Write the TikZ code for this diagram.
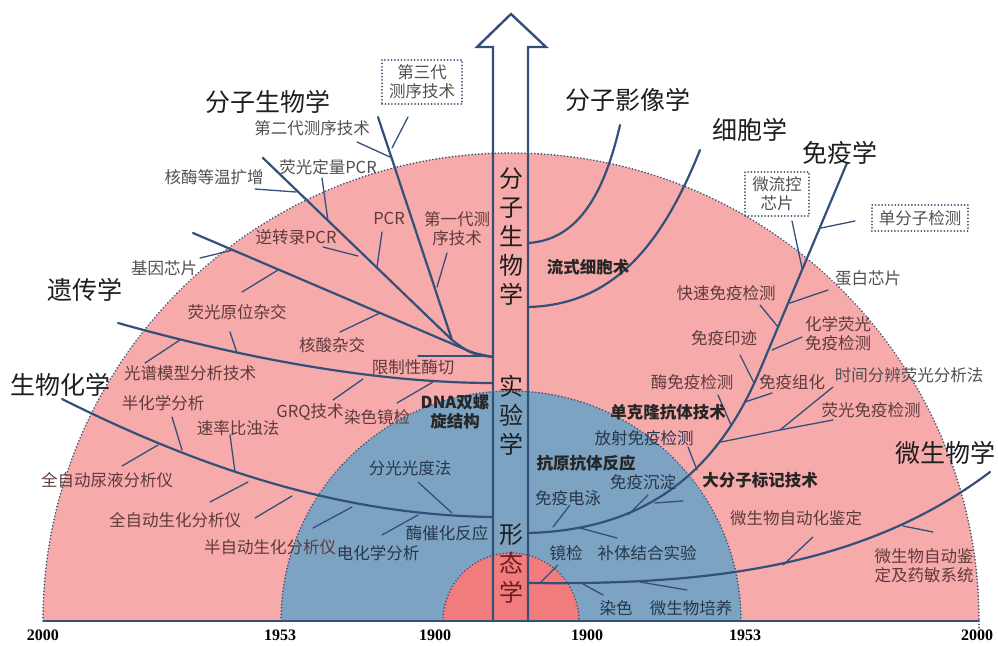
\documentclass[tikz,border=0pt]{standalone}
\usepackage{fontspec}
\setmainfont{Noto Sans CJK SC}
\newfontfamily\yearfont{Liberation Serif}
\definecolor{pinkfill}{HTML}{F7AAAA}
\definecolor{bluefill}{HTML}{7DA3C2}
\definecolor{redfill}{HTML}{F27C7C}
\definecolor{branch}{HTML}{33507A}
\definecolor{dotc}{HTML}{3D5675}
\definecolor{txtpink}{HTML}{5E3A3C}
\definecolor{txtout}{HTML}{505050}
\definecolor{txtblue}{HTML}{26374C}
\definecolor{bigtxt}{HTML}{1E1E1E}
\definecolor{darkred}{HTML}{6A1E22}
\tikzset{
  mainbr/.style={draw=branch, line width=2.2pt, line cap=round},
  twig/.style={draw=branch, line width=1.3pt, line cap=round},
  rim/.style={draw=dotc, line width=1.8pt, dash pattern=on 0.1pt off 3.2pt, line cap=round},
  lbl/.style={font=\fontsize{16.5}{19}\selectfont, text=txtpink, inner sep=0pt, align=center},
  outlbl/.style={lbl, text=txtout},
  bluelbl/.style={lbl, text=txtblue},
  boldlbl/.style={lbl, font=\fontsize{16.5}{19}\selectfont\bfseries, text=black!85},
  biglbl/.style={font=\fontsize{25}{28}\selectfont, text=bigtxt, inner sep=0pt},
  boxlbl/.style={outlbl, draw=dotc, line width=1.8pt, dash pattern=on 0.1pt off 3.2pt, line cap=round, inner xsep=7pt, inner ysep=5pt},
  arrowtxt/.style={font=\fontsize{24}{29}\selectfont, text=bigtxt, inner sep=0pt, align=center},
  yearlbl/.style={font=\yearfont\bfseries\fontsize{16}{18}\selectfont, text=black, inner sep=0pt},
  arrowline/.style={draw=branch, line width=2.4pt, line join=miter}
}
\begin{document}
\begin{tikzpicture}[x=1pt,y=-1pt]
\useasboundingbox (0,0) rectangle (998,645);
% regions
\fill[pinkfill] (43,621) arc[start angle=180,end angle=0,radius=468pt] -- cycle;
\fill[bluefill] (281,621) arc[start angle=180,end angle=0,radius=230pt] -- cycle;
\fill[redfill] (443,621) arc[start angle=180,end angle=0,radius=68pt] -- cycle;
\draw[rim] (43,621) arc[start angle=180,end angle=0,radius=468pt];
\draw[rim] (281,621) arc[start angle=180,end angle=0,radius=230pt];
\draw[rim] (443,621) arc[start angle=180,end angle=0,radius=68pt];
\draw[rim] (979,621) -- (979,630);
\draw[draw=branch, line width=1.8pt] (43,621) -- (979,621);

% central arrow
\draw[arrowline] (493,621) -- (493,47) -- (477,47) -- (511,14) -- (546,47) -- (528,47) -- (528,621);
\node[arrowtxt] (amol) at (511,237) {分\\子\\生\\物\\学};
\node[arrowtxt] (aexp) at (511,415) {实\\验\\学};
\node[arrowtxt] (amor) at (511,564) {形\\{\color{darkred}态}\\{\color{darkred}学}};

% ---------- molecular biology tree ----------
\draw[mainbr] (378,117) -- (452,340);
\draw[mainbr] (263,158) -- (452,340) .. controls (468,352) .. (493,357);
\draw[mainbr] (193,233) -- (462,348) .. controls (476,355) .. (493,357);
\draw[twig] (357,142) -- (390,157);
\draw[twig] (408,117) -- (392,148);
\draw[twig] (447,253) -- (437,287);
\draw[twig] (255,189) -- (296,192);
\draw[twig] (322,178) -- (328,221);
\draw[twig] (323,247) -- (358,256);
\draw[twig] (382,232) -- (377,267);
\draw[twig] (233,250) -- (200,258);
\draw[twig] (278,270) -- (242,292);
\draw[twig] (380,313) -- (340,332);
\draw[twig] (418,356) -- (482,356);

% genetics line
\draw[mainbr] (118,323) .. controls (250,360) and (380,383) .. (493,383);
\draw[twig] (180,340) -- (145,363);
\draw[twig] (237,353) -- (230,332);
\draw[twig] (363,379) -- (333,400);
\draw[twig] (433,382) -- (397,403);

% biochemistry line
\draw[mainbr] (62,399) .. controls (200,468) and (340,515) .. (493,517);
\draw[twig] (172,417) -- (182,450);
\draw[twig] (122,466) -- (158,445);
\draw[twig] (230,435) -- (235,472);
\draw[twig] (210,502) -- (248,482);
\draw[twig] (255,518) -- (292,496);
\draw[twig] (313,528) -- (352,507);
\draw[twig] (382,535) -- (418,515);
\draw[twig] (418,482) -- (452,513);

% molecular imaging & cytology
\draw[mainbr] (620,125) .. controls (605,190) and (580,240) .. (528,243);
\draw[mainbr] (700,150) .. controls (660,250) and (610,305) .. (528,307);

% immunology tree
\draw[mainbr] (847,163) -- (760,370) .. controls (715,478) and (640,530) .. (528,533);
\draw[twig] (792,221) -- (802,268);
\draw[twig] (855,221) -- (821,228);
\draw[twig] (828,290) -- (790,303);
\draw[twig] (760,305) -- (778,327);
\draw[twig] (802,337) -- (772,350);
\draw[twig] (740,355) -- (754,383);
\draw[twig] (772,393) -- (745,402);
\draw[twig] (718,395) -- (731,425);
\draw[twig] (721,442) -- (780,430) -- (833,420);
\draw[twig] (780,430) -- (833,387);
\draw[twig] (688,447) -- (697,470);
\draw[twig] (648,495) -- (628,515);
\draw[twig] (655,503) -- (683,501);
\draw[twig] (570,505) -- (553,527);
\draw[twig] (580,528) -- (617,538);

% microbiology line
\draw[mainbr] (990,472) .. controls (860,570) and (700,585) .. (528,583);
\draw[twig] (813,537) -- (783,565);
\draw[twig] (933,532) -- (903,526);
\draw[twig] (558,565) -- (540,583);
\draw[twig] (603,595) -- (583,584);
\draw[twig] (687,590) -- (640,582);

% ---------- big labels ----------
\node[biglbl] (mb) at (268,102) {分子生物学};
\node[biglbl] (mi) at (628,100) {分子影像学};
\node[biglbl] (cy) at (750,130) {细胞学};
\node[biglbl] (im) at (840,153) {免疫学};
\node[biglbl] (ge) at (85,290) {遗传学};
\node[biglbl] (bc) at (60,385) {生物化学};
\node[biglbl] (mc) at (945,453) {微生物学};

% boxes
\node[boxlbl] (b3) at (422,82) {第三代\\测序技术};
\node[boxlbl] (bmf) at (777,194) {微流控\\芯片};
\node[boxlbl] (bsm) at (920,218) {单分子检测};

% outer labels
\node[outlbl] at (312,128) {第二代测序技术};
\node[outlbl] at (214,177) {核酶等温扩增};
\node[outlbl] at (328,167) {荧光定量PCR};
\node[outlbl] at (164,268) {基因芯片};
\node[outlbl] at (868,278) {蛋白芯片};
\node[outlbl] at (909,375) {时间分辨荧光分析法};

% pink region labels
\node[lbl] at (296,237) {逆转录PCR};
\node[lbl] at (389,218) {PCR};
\node[lbl] at (457,229) {第一代测\\序技术};
\node[lbl] at (237,312) {荧光原位杂交};
\node[lbl] at (332,345) {核酸杂交};
\node[lbl] at (413,367) {限制性酶切};
\node[lbl] at (190,373) {光谱模型分析技术};
\node[lbl] at (163,403) {半化学分析};
\node[lbl] at (107,480) {全自动尿液分析仪};
\node[lbl] at (238,428) {速率比浊法};
\node[lbl] at (175,520) {全自动生化分析仪};
\node[lbl] at (270,547) {半自动生化分析仪};
\node[lbl] at (310,412) {GRQ技术};
\node[lbl] at (377,417) {染色镜检};
\node[boldlbl] at (455,412) {DNA双螺\\旋结构};
\node[boldlbl] at (588,267) {流式细胞术};
\node[lbl] at (726,293) {快速免疫检测};
\node[lbl] at (838,334) {化学荧光\\免疫检测};
\node[lbl] at (724,338) {免疫印迹};
\node[lbl] at (692,382) {酶免疫检测};
\node[lbl] at (792,382) {免疫组化};
\node[lbl] at (871,410) {荧光免疫检测};
\node[boldlbl] at (668,412) {单克隆抗体技术};
\node[boldlbl] at (760,480) {大分子标记技术};
\node[lbl] at (796,518) {微生物自动化鉴定};
\node[lbl] at (924,566) {微生物自动鉴\\定及药敏系统};

% blue region labels
\node[bluelbl] at (410,468) {分光光度法};
\node[bluelbl] at (447,533) {酶催化反应};
\node[bluelbl] at (378,553) {电化学分析};
\node[bluelbl] at (644,438) {放射免疫检测};
\node[boldlbl] at (586,463) {抗原抗体反应};
\node[bluelbl] at (643,482) {免疫沉淀};
\node[bluelbl] at (568,498) {免疫电泳};
\node[bluelbl] at (647,553) {补体结合实验};
\node[bluelbl] at (566,553) {镜检};
\node[bluelbl] at (616,608) {染色};
\node[bluelbl] at (691,608) {微生物培养};

% years
\node[yearlbl] at (43,635) {2000};
\node[yearlbl] at (280,635) {1953};
\node[yearlbl] at (435,635) {1900};
\node[yearlbl] at (587,635) {1900};
\node[yearlbl] at (745,635) {1953};
\node[yearlbl] at (977,635) {2000};
\end{tikzpicture}
\end{document}
